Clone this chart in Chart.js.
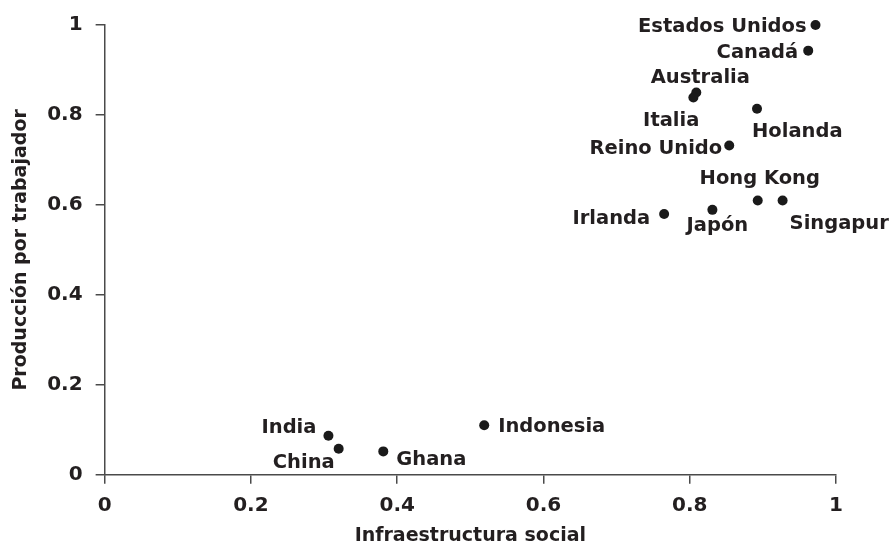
<!DOCTYPE html>
<html>
<head>
<meta charset="utf-8">
<script src="https://cdn.jsdelivr.net/npm/chart.js@4"></script>
<style>
  html, body { margin: 0; padding: 0; background: #fff; }
  #wrap { width: 891px; height: 544px; }
</style>
</head>
<body>
<div id="wrap"><canvas id="chartScatter" width="891" height="544"></canvas></div>
<script>
// datos
const paises = ["Estados Unidos", "Canadá", "Australia", "Italia", "Holanda", "Reino Unido",
    "Hong Kong", "Singapur", "Japón", "Irlanda", "India", "China", "Ghana", "Indonesia"]
const infraestructura = [0.972, 0.962, 0.809, 0.805, 0.892, 0.854,
    0.893, 0.927, 0.831, 0.765, 0.306, 0.320, 0.381, 0.519]
const produccion = [1.0, 0.943, 0.850, 0.839, 0.814, 0.732,
    0.610, 0.610, 0.589, 0.580, 0.087, 0.058, 0.052, 0.110]
const ticksX = [0, 0.2, 0.4, 0.6, 0.8, 1]
const ticksY = [0, 0.2, 0.4, 0.6, 0.8, 1]

// où placer chaque étiquette par rapport au point (align, dx, dy)
const placement = [
    ["right", -9, 0], ["right", -10, 0], ["center", 4, -17], ["right", 6, 21],
    ["left", -5, 21], ["right", -7, 1], ["center", 2, -24], ["left", 7, 21],
    ["center", 5, 14], ["right", -14, 3], ["right", -12, -10], ["right", -4, 12],
    ["left", 13, 6], ["left", 14, 0]
]

const fontFamily = "'DejaVu Sans', sans-serif"
const labelSize = 19.5
const tickSize = 20
const titleSize = 19
const textColor = "#231f20"
const axisColor = "#4a4a4a"

let points = paises.map((p, i) => ({x: infraestructura[i], y: produccion[i]}))

// plugin maison pour écrire le nom du pays à côté de chaque point
const labelsPlugin = {
    id: "etiquetas",
    afterDatasetsDraw(chart) {
        let ctx = chart.ctx
        let meta = chart.getDatasetMeta(0)
        ctx.save()
        ctx.font = "bold " + labelSize + "px " + fontFamily
        ctx.fillStyle = textColor
        ctx.textBaseline = "alphabetic"
        let capHalf = labelSize * 0.73 / 2
        meta.data.forEach((pt, i) => {
            let [align, dx, dy] = placement[i]
            ctx.textAlign = align
            ctx.fillText(paises[i], pt.x + dx, pt.y + dy + capHalf)
        })
        ctx.restore()
    }
}

function axisOptions(ticks, title, isY) {
    return {
        type: "linear",
        min: 0,
        max: 1,
        afterBuildTicks: (scale) => { scale.ticks = ticks.map(v => ({value: v})) },
        grid: {
            display: true,
            drawOnChartArea: false,
            drawTicks: true,
            tickLength: 9,
            color: axisColor,
            lineWidth: 1.5
        },
        border: { display: true, color: axisColor, width: 1.5 },
        ticks: {
            color: textColor,
            padding: isY ? 13 : 10,
            font: { family: fontFamily, size: tickSize, weight: "bold" },
            callback: (v) => String(v)
        },
        title: {
            display: true,
            text: title,
            color: textColor,
            font: { family: fontFamily, size: titleSize, weight: "bold", lineHeight: 0.8 },
            padding: isY ? { top: 0, bottom: 6 } : { top: 1, bottom: 0 }
        }
    }
}

let configScatter = {
    type: "scatter",
    data: {
        datasets: [{
            data: points,
            pointRadius: 5,
            pointHoverRadius: 5,
            backgroundColor: "#1a1a1a",
            borderWidth: 0,
            clip: false
        }]
    },
    options: {
        responsive: false,
        animation: false,
        layout: { padding: { left: 13, right: 55, top: 22, bottom: 0 } },
        plugins: { legend: { display: false }, tooltip: { enabled: false } },
        scales: {
            x: axisOptions(ticksX, "Infraestructura social", false),
            y: axisOptions(ticksY, "Producción por trabajador", true)
        }
    },
    plugins: [labelsPlugin]
}

let chartScatter = new Chart(document.getElementById("chartScatter"), configScatter)
</script>
</body>
</html>
